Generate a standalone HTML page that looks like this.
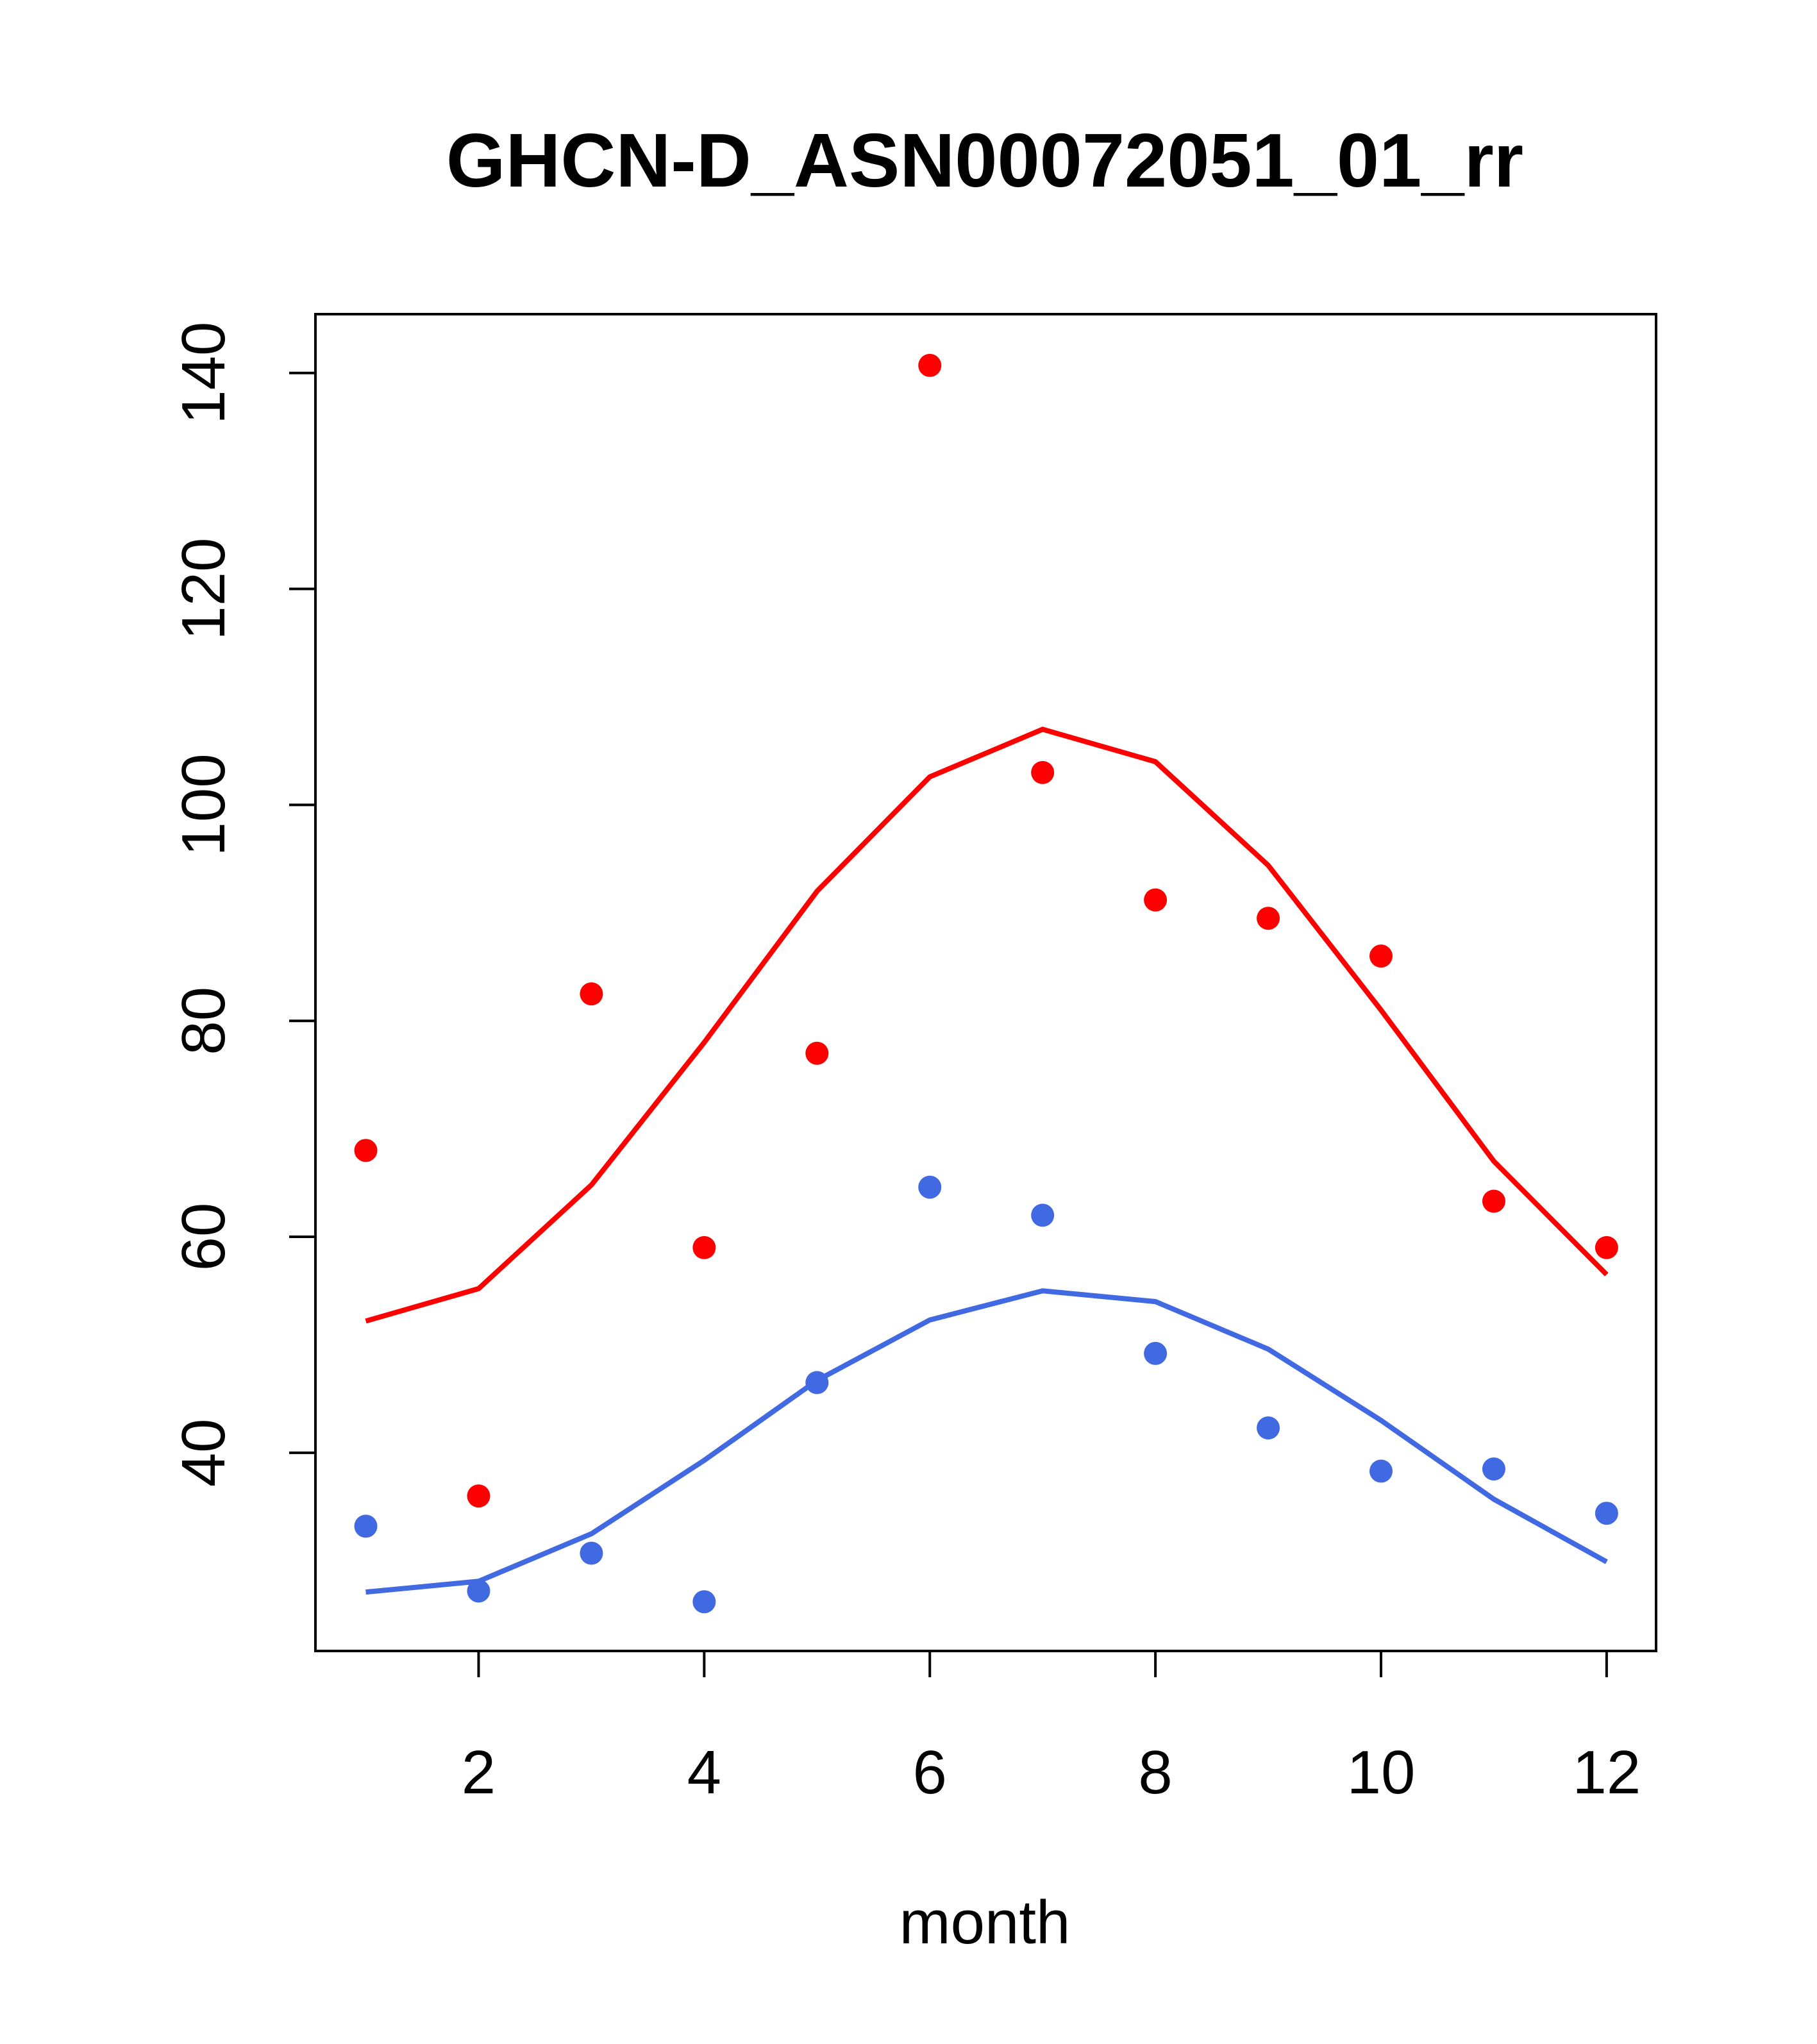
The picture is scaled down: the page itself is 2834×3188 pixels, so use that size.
<!DOCTYPE html>
<html><head><meta charset="utf-8"><style>
html,body{margin:0;padding:0;background:#fff}
svg{display:block}
text{font-family:"Liberation Sans",Arial,sans-serif;fill:#000}
</style></head><body>
<svg id="chart" width="2834" height="3188" viewBox="0 0 2834 3188" xmlns="http://www.w3.org/2000/svg">
<rect width="2834" height="3188" fill="#fff"/>
<text x="1536" y="291" font-size="119" font-weight="bold" text-anchor="middle">GHCN-D_ASN00072051_01_rr</text>
<rect x="492" y="490" width="2091" height="2085" fill="none" stroke="#000" stroke-width="4"/>
<g id="xaxis"></g>
<g id="yaxis"></g>
<g id="series"></g>
<text x="1536" y="3031" font-size="96" text-anchor="middle">month</text>
</svg>
<script>
const months=[1,2,3,4,5,6,7,8,9,10,11,12];
const redPoints=[68,36,82.5,59,77,140.7,103,91.2,89.5,86,63.3,59];
const redLine=[52.2,55.2,64.8,78,92,102.6,107,104,94.4,81,67,56.5];
const bluePoints=[33.2,27.2,30.7,26.2,46.5,64.6,62,49.2,42.3,38.3,38.5,34.4];
const blueLine=[27.1,28.1,32.5,39.3,46.7,52.3,55,54,49.6,43,35.7,29.9];
const xTicks=[2,4,6,8,10,12];
const yTicks=[40,60,80,100,120,140];
const NS="http://www.w3.org/2000/svg";
const S=2.034;
function X(m){return (280.5+(m-1)*86.5)*S;}
function Y(v){return (1114-(v-40)*8.28)*S;}
function mk(t,a,p){const e=document.createElementNS(NS,t);for(const k in a)e.setAttribute(k,a[k]);p.appendChild(e);return e;}
const xa=document.getElementById('xaxis'),ya=document.getElementById('yaxis'),se=document.getElementById('series');
mk('line',{x1:X(2),x2:X(12),y1:2575,y2:2575,stroke:'#000','stroke-width':4},xa);
xTicks.forEach(t=>{
 const l=mk('line',{x1:X(t),x2:X(t),y1:2575,y2:2616,stroke:'#000','stroke-width':4},xa);
 
 
 const tx=mk('text',{x:X(t),y:2797,'font-size':96,'text-anchor':'middle'},xa);
 tx.textContent=t;
 
 
});
mk('line',{x1:492,x2:492,y1:Y(40),y2:Y(140),stroke:'#000','stroke-width':4},ya);
yTicks.forEach(t=>{
 const l=mk('line',{x1:451,x2:492,y1:Y(t),y2:Y(t),stroke:'#000','stroke-width':4},ya);
 
 
 const tx=mk('text',{x:0,y:0,'font-size':96,'text-anchor':'middle',transform:`translate(350,${Y(t)}) rotate(-90)`},ya);
 tx.textContent=t;
 
 
});
function line(vals,col,name){
 const p=mk('polyline',{points:vals.map((v,i)=>X(months[i])+','+Y(v)).join(' '),fill:'none',stroke:col,'stroke-width':8},se);
 
 
}
function pts(vals,col,name){
 vals.forEach((v,i)=>{
  const c=mk('circle',{cx:X(months[i]),cy:Y(v),r:18,fill:col},se);
  
  
 });
}
line(redLine,'#ff0000','red-line');
line(blueLine,'#4169e1','blue-line');
pts(redPoints,'#ff0000','red-point');
pts(bluePoints,'#4169e1','blue-point');
</script>
</body></html>
